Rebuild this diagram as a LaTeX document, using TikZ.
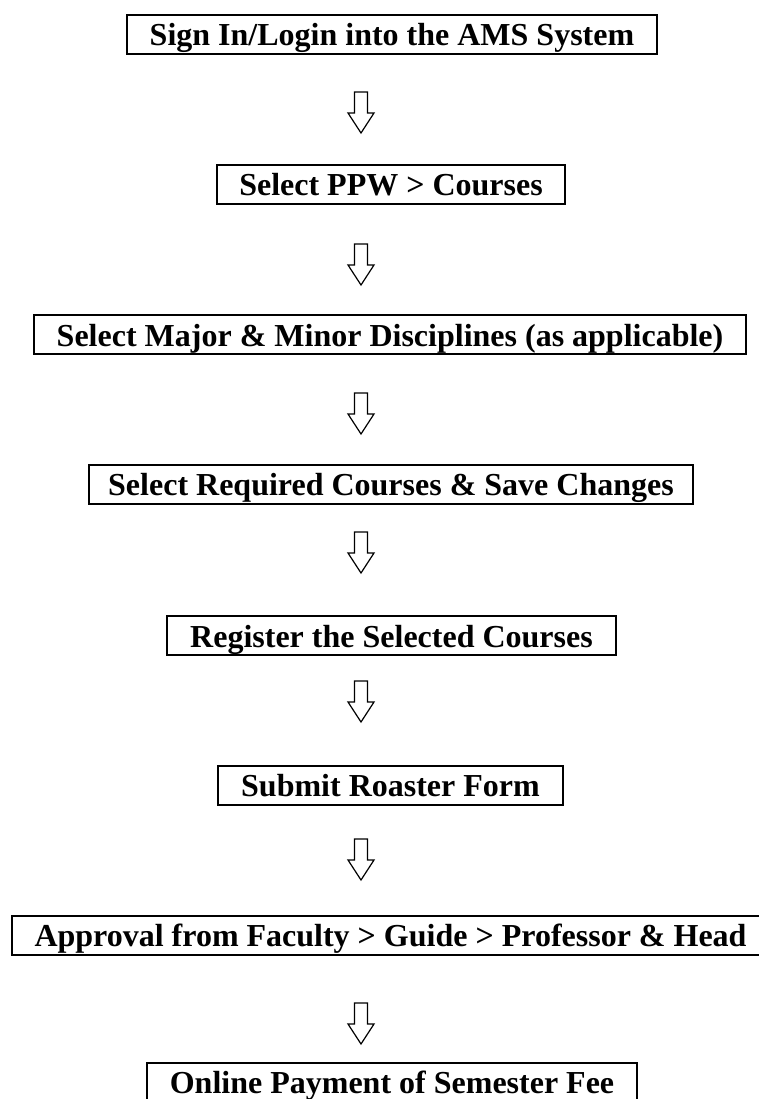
\documentclass[tikz,border=0pt]{standalone}
\usepackage{fontspec}
\setmainfont{Liberation Serif}
\newcommand\fatarrow[1]{\draw[fatarrowline] (#1) ++(-6.5,0) -- ++(0,21) -- ++(-6.5,0) -- ++(13,20) -- ++(13,-20) -- ++(-6.5,0) -- ++(0,-21) -- cycle;}
\begin{document}
\begin{tikzpicture}[x=1pt,y=-1pt,
  stepbox/.style={draw, line width=2pt, inner sep=0pt, text height=31pt, text depth=8pt,
    font=\fontsize{32}{38}\selectfont\bfseries},
  fatarrowline/.style={draw, line width=1.2pt, line join=miter}]
\useasboundingbox[fill=white] (0,0) rectangle (759,1099);
\node[stepbox, minimum width=530pt] (b1) at (392,34.5) {Sign In/Login into the AMS System};
\node[stepbox, minimum width=348pt] (b2) at (391,184.5) {Select PPW > Courses};
\node[stepbox, minimum width=712pt] (b3) at (390,334.5) {Select Major \& Minor Disciplines (as applicable)};
\node[stepbox, minimum width=604pt] (b4) at (391,484) {Select Required Courses \& Save Changes};
\node[stepbox, minimum width=449pt] (b5) at (391.5,635.5) {Register the Selected Courses};
\node[stepbox, minimum width=345pt] (b6) at (390.5,785) {Submit Roaster Form};
\node[stepbox, minimum width=757pt] (b7) at (390.5,935) {Approval from Faculty > Guide > Professor \& Head};
\node[stepbox, minimum width=490pt] (b8) at (392,1082) {Online Payment of Semester Fee};
\coordinate (a1) at (361,92);
\coordinate (a2) at (361,244);
\coordinate (a3) at (361,393);
\coordinate (a4) at (361,532);
\coordinate (a5) at (361,681);
\coordinate (a6) at (361,839);
\coordinate (a7) at (361,1003);
\fatarrow{a1}
\fatarrow{a2}
\fatarrow{a3}
\fatarrow{a4}
\fatarrow{a5}
\fatarrow{a6}
\fatarrow{a7}
\end{tikzpicture}
\end{document}
